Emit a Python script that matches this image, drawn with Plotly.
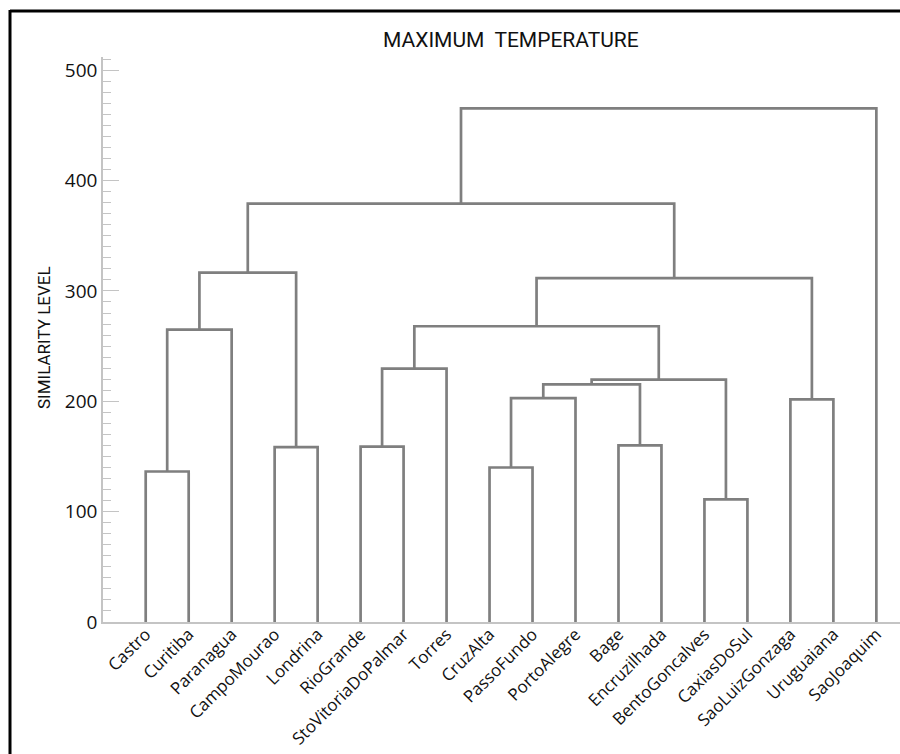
import plotly.graph_objects as go

# ---- data ----
leaves = ["Castro", "Curitiba", "Paranagua", "CampoMourao", "Londrina", "RioGrande",
          "StoVitoriaDoPalmar", "Torres", "CruzAlta", "PassoFundo", "PortoAlegre", "Bage",
          "Encruzilhada", "BentoGoncalves", "CaxiasDoSul", "SaoLuizGonzaga", "Uruguaiana",
          "SaoJoaquim"]
# merges: (left child, right child, similarity level); ids 0..17 are leaves, 18.. are clusters
merge_left = [0, 18, 3, 19, 5, 22, 8, 24, 11, 25, 13, 27, 23, 15, 30, 21, 33]
merge_right = [1, 2, 4, 20, 6, 7, 9, 10, 12, 26, 14, 28, 29, 16, 31, 32, 17]
merge_height = [136.4, 264.9, 158.5, 316.6, 159.0, 229.6, 140.0, 202.9, 160.0, 215.3,
                111.1, 219.6, 268.0, 201.7, 311.7, 379.1, 465.5]
y_tickvals = [0, 100, 200, 300, 400, 500]

# ---- layout geometry ----
W, H = 900, 754
ML, MR, MT, MB = 103, 0, 57, 132
pw, ph = W - ML - MR, H - MT - MB
spacing = 42.98
x0 = -(145.7 - ML) / spacing
x1 = x0 + pw / spacing
y_max = 512


def px_to_paper_x(px):
    return (px - ML) / pw


def px_to_paper_y(py):
    return (H - MB - py) / ph


fig = go.Figure()

node_x = {i: float(i) for i in range(len(leaves))}
node_h = {i: 0.0 for i in range(len(leaves))}
line_color = "#7f7f7f"
for k, (a, b, h) in enumerate(zip(merge_left, merge_right, merge_height)):
    nid = len(leaves) + k
    xa, xb = node_x[a], node_x[b]
    fig.add_trace(go.Scatter(
        x=[xa, xa, xb, xb], y=[node_h[a], h, h, node_h[b]],
        mode="lines", line=dict(color=line_color, width=2.7),
        hoverinfo="skip", showlegend=False))
    node_x[nid] = (xa + xb) / 2
    node_h[nid] = h

axis_gray = "#c4c4c4"
tick_font = dict(family="Open Sans, DejaVu Sans, sans-serif", size=19, color="#111111")

fig.update_xaxes(
    range=[x0, x1], tickmode="array", tickvals=list(range(len(leaves))), ticktext=leaves,
    tickangle=-45, ticks="", showgrid=False, zeroline=False,
    showline=True, linecolor=axis_gray, linewidth=1.5,
    tickfont=dict(family="Open Sans, DejaVu Sans, sans-serif", size=17, color="#111111"),
    ticklabelstandoff=-6,
)
fig.update_yaxes(
    range=[0, y_max], tickmode="array", tickvals=y_tickvals,
    ticks="inside", ticklen=16, tickcolor=axis_gray, tickwidth=1.2,
    minor=dict(dtick=10, tick0=0, ticks="inside", ticklen=8, tickcolor=axis_gray, tickwidth=1),
    showgrid=False, zeroline=False, showline=True, linecolor=axis_gray, linewidth=1.5,
    tickfont=tick_font, ticklabelstandoff=0,
)

fig.update_layout(
    width=W, height=H, margin=dict(l=ML, r=MR, t=MT, b=MB, autoexpand=False),
    plot_bgcolor="white", paper_bgcolor="white", showlegend=False,
    annotations=[
        dict(text="MAXIMUM  TEMPERATURE", xref="paper", yref="paper",
             x=px_to_paper_x(510.5), y=px_to_paper_y(40), xanchor="center", yanchor="middle",
             showarrow=False, font=dict(family="Roboto, DejaVu Sans, sans-serif", size=21, color="#111111")),
        dict(text="SIMILARITY LEVEL", xref="paper", yref="paper",
             x=px_to_paper_x(44), y=px_to_paper_y(338), xanchor="center", yanchor="middle",
             textangle=-90, showarrow=False,
             font=dict(family="Roboto, DejaVu Sans, sans-serif", size=17, color="#111111")),
    ],
    shapes=[
        dict(type="line", xref="paper", yref="paper", layer="above",
             x0=px_to_paper_x(10), x1=px_to_paper_x(10), y0=px_to_paper_y(10), y1=px_to_paper_y(770),
             line=dict(color="black", width=3)),
        dict(type="line", xref="paper", yref="paper", layer="above",
             x0=px_to_paper_x(10), x1=px_to_paper_x(920), y0=px_to_paper_y(11), y1=px_to_paper_y(11),
             line=dict(color="black", width=3)),
    ],
)

fig.write_html("out.html", config={"displayModeBar": False},
               post_script="document.body.style.margin='0';")
